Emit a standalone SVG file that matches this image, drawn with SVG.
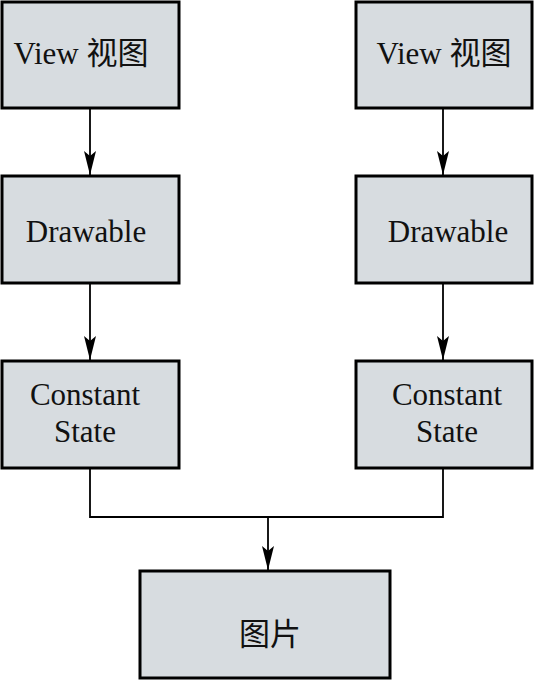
<svg xmlns="http://www.w3.org/2000/svg" width="534" height="681" viewBox="0 0 534 681">
<style>
.box{fill:#d7dce0;stroke:#000;stroke-width:3}
.t{font-family:"Liberation Serif","Noto Sans CJK SC",serif;font-size:31px;fill:#111;text-anchor:middle}
.c{fill:none;stroke:#000;stroke-width:1.8}
</style>
<defs>
<marker id="ah" viewBox="0 0 24 12" refX="24" refY="6" markerWidth="24" markerHeight="12" markerUnits="userSpaceOnUse" orient="auto">
<path d="M0,0 L24,6 L0,12 L5,6 Z" fill="#000"/>
</marker>
</defs>
<g id="connectors">
<line class="c" x1="90" y1="108" x2="90" y2="175" marker-end="url(#ah)"/>
<line class="c" x1="90" y1="283" x2="90" y2="360" marker-end="url(#ah)"/>
<line class="c" x1="443" y1="108" x2="443" y2="175" marker-end="url(#ah)"/>
<line class="c" x1="443" y1="283" x2="443" y2="360" marker-end="url(#ah)"/>
<polyline class="c" points="90,468 90,517 443,517 443,468"/>
<line class="c" x1="268" y1="517" x2="268" y2="570" marker-end="url(#ah)"/>
</g>
<g id="view-left">
<rect class="box" x="2" y="2" width="177" height="106"/>
<text class="t" x="81" y="64">View 视图</text>
</g>
<g id="drawable-left">
<rect class="box" x="2" y="176" width="177" height="107"/>
<text class="t" x="86" y="242">Drawable</text>
</g>
<g id="constant-left">
<rect class="box" x="2" y="361" width="177" height="107"/>
<text class="t" x="85" y="405">Constant</text>
<text class="t" x="85" y="442">State</text>
</g>
<g id="view-right">
<rect class="box" x="356" y="2" width="176" height="106"/>
<text class="t" x="444" y="64">View 视图</text>
</g>
<g id="drawable-right">
<rect class="box" x="356" y="176" width="176" height="107"/>
<text class="t" x="448" y="242">Drawable</text>
</g>
<g id="constant-right">
<rect class="box" x="356" y="361" width="176" height="107"/>
<text class="t" x="447" y="405">Constant</text>
<text class="t" x="447" y="442">State</text>
</g>
<g id="image">
<rect class="box" x="140" y="571" width="250" height="107"/>
<text class="t" x="270" y="645">图片</text>
</g>
</svg>
